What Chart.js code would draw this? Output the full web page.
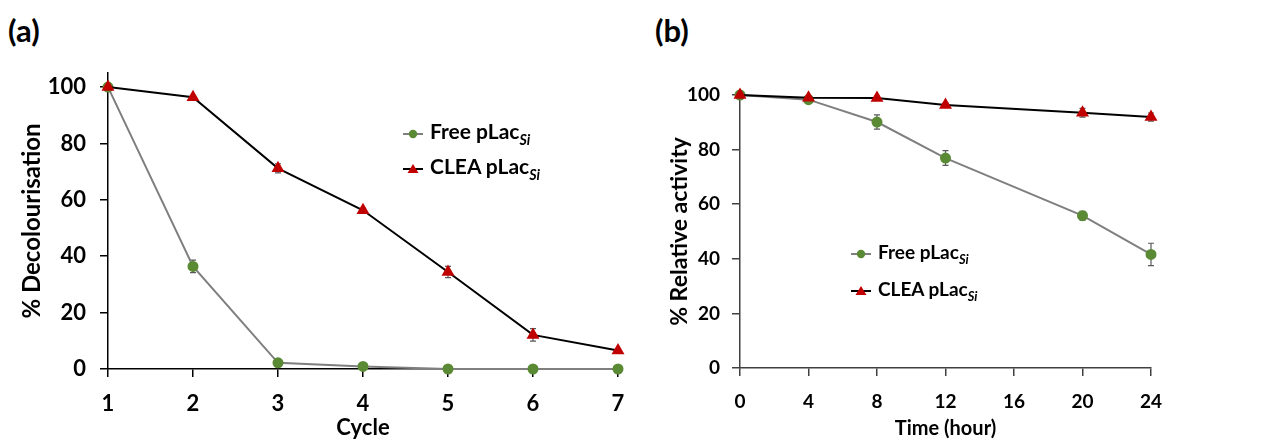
<!DOCTYPE html>
<html>
<head>
<meta charset="utf-8">
<script src="https://cdn.jsdelivr.net/npm/chart.js@4/dist/chart.umd.min.js"></script>
<style>
  body { margin: 0; background: #fff; width: 1271px; height: 441px; position: relative; overflow: hidden; font-family: Lato, sans-serif; }
  .panel { position: absolute; top: 0; }
  canvas { display: block; }
  .tag { position: absolute; font-weight: bold; font-size: 31px; color: #000; line-height: 1; }
  .row { position: absolute; white-space: nowrap; display: flex; align-items: center; font-weight: bold; color: #000; line-height: 1; }
  .row svg { margin-right: 7px; }
  .row sub { font-style: italic; font-size: 0.68em; vertical-align: -0.4em; }
</style>
</head>
<body>
<div class="tag" style="left:8px;top:15px;">(a)</div>
<div class="tag" style="left:655px;top:15px;">(b)</div>
<div class="panel" style="left:0;"><canvas id="chartA" width="640" height="441"></canvas></div>
<div class="panel" style="left:640px;"><canvas id="chartB" width="631" height="441"></canvas></div>
<div id="legendA"></div>
<div id="legendB"></div>
<script>
// series names (subscript part kept apart)
const seriesNames = ['Free pLac', 'CLEA pLac'];
const seriesSub = 'Si';
const yTicks = [0, 20, 40, 60, 80, 100];

// (a) reuse cycles
const cycles = [1, 2, 3, 4, 5, 6, 7];
const freeDecol = [100, 36.4, 2.2, 0.9, 0, 0, 0];
const freeDecolErr = [0.4, 2.2, 0.5, 0.4, 0, 0, 0];
const cleaDecol = [100, 96.4, 71.2, 56.3, 34.4, 12.1, 6.6];
const cleaDecolErr = [0.4, 0.6, 1.6, 0.7, 2.0, 2.2, 0.5];

// (b) storage stability
const hours = [0, 4, 8, 12, 20, 24];
const freeAct = [100, 98.3, 90.1, 76.9, 55.8, 41.6];
const freeActErr = [0.4, 1.0, 2.6, 2.7, 1.6, 4.1];
const cleaAct = [100, 99.0, 98.9, 96.3, 93.5, 91.9];
const cleaActErr = [0.4, 0.8, 0.6, 0.7, 1.6, 1.5];

const green = '#5a8a34';
const red = '#c00000';

// draw the error bars under the lines, using the chart scales
const errorBars = {
  id: 'errorBars',
  beforeDatasetsDraw(chart) {
    const { ctx, scales: { x, y } } = chart;
    ctx.save();
    ctx.strokeStyle = '#595959';
    ctx.lineWidth = 1.2;
    chart.data.datasets.forEach(ds => {
      if (!ds.errors) return;
      ds.data.forEach((p, i) => {
        const e = ds.errors[i];
        if (!e) return;
        const px = x.getPixelForValue(p.x);
        const top = y.getPixelForValue(p.y + e);
        const bot = y.getPixelForValue(p.y - e);
        ctx.beginPath();
        ctx.moveTo(px, top); ctx.lineTo(px, bot);
        ctx.moveTo(px - 3, top); ctx.lineTo(px + 3, top);
        ctx.moveTo(px - 3, bot); ctx.lineTo(px + 3, bot);
        ctx.stroke();
      });
    });
    ctx.restore();
  }
};

function pts(xs, ys) {
  return xs.map((v, i) => ({ x: v, y: ys[i] }));
}

function makeChart(id, cfg) {
  const axisColor = cfg.axisColor;
  const bold = size => ({ family: 'Lato', weight: 'bold', size: size });
  return new Chart(document.getElementById(id), {
    type: 'line',
    data: {
      datasets: [
        {
          label: seriesNames[0],
          data: pts(cfg.xs, cfg.free),
          errors: cfg.freeErr,
          borderColor: '#7f7f7f',
          borderWidth: 2,
          pointStyle: 'circle',
          pointRadius: 4.5,
          pointBackgroundColor: green,
          pointBorderColor: green,
          clip: false,
          order: 1
        },
        {
          label: seriesNames[1],
          data: pts(cfg.xs, cfg.clea),
          errors: cfg.cleaErr,
          borderColor: '#000',
          borderWidth: 2,
          pointStyle: 'triangle',
          pointRadius: 5.5,
          pointBackgroundColor: red,
          pointBorderColor: red,
          clip: false,
          order: 0
        }
      ]
    },
    options: {
      responsive: false,
      animation: false,
      layout: { padding: cfg.padding },
      plugins: { legend: { display: false }, tooltip: { enabled: false } },
      scales: {
        x: {
          type: 'linear',
          min: cfg.xMin, max: cfg.xMax,
          border: { color: axisColor, width: 1.5 },
          grid: { drawOnChartArea: false, drawTicks: true, tickLength: 8, color: axisColor, lineWidth: 1.5 },
          ticks: { stepSize: cfg.xStep, color: '#000', padding: cfg.xTickPad, font: bold(cfg.tickSize) },
          title: { display: true, text: cfg.xTitle, color: '#000', padding: { top: 0, bottom: 0 }, font: bold(cfg.xTitleSize) },
          afterFit: s => { s.height = cfg.xHeight; }
        },
        y: {
          min: 0, max: cfg.yMax,
          border: { color: axisColor, width: 1.5 },
          grid: { drawOnChartArea: false, drawTicks: true, tickLength: 8, color: axisColor, lineWidth: 1.5 },
          ticks: { color: '#000', padding: cfg.yTickPad, font: bold(cfg.tickSize) },
          afterBuildTicks: s => { s.ticks = yTicks.map(v => ({ value: v })); },
          title: { display: true, text: cfg.yTitle, color: '#000', padding: { top: cfg.yTitlePad, bottom: 0 }, font: bold(cfg.yTitleSize) },
          afterFit: s => { s.width = cfg.yWidth; }
        }
      }
    },
    plugins: [errorBars]
  });
}

makeChart('chartA', {
  xs: cycles, free: freeDecol, freeErr: freeDecolErr, clea: cleaDecol, cleaErr: cleaDecolErr,
  xMin: 1, xMax: 7, xStep: 1, yMax: 105,
  xTitle: 'Cycle', yTitle: '% Decolourisation',
  padding: { top: 73, right: 22, left: 0, bottom: 0 },
  xHeight: 72, yWidth: 108, yTitlePad: 18, xTickPad: 14, yTickPad: 14,
  tickSize: 22, xTitleSize: 22, yTitleSize: 24, axisColor: '#000'
});

makeChart('chartB', {
  xs: hours, free: freeAct, freeErr: freeActErr, clea: cleaAct, cleaErr: cleaActErr,
  xMin: 0, xMax: 24, xStep: 4, yMax: 100,
  xTitle: 'Time (hour)', yTitle: '% Relative activity',
  padding: { top: 95, right: 120, left: 0, bottom: 0 },
  xHeight: 73, yWidth: 100, yTitlePad: 26, xTickPad: 14, yTickPad: 12,
  tickSize: 19, xTitleSize: 20, yTitleSize: 23, axisColor: '#404040'
});

// legends with subscripted names
const markers = [
  '<svg width="20" height="12"><line x1="0" y1="6" x2="20" y2="6" stroke="#7f7f7f" stroke-width="2"/><circle cx="10" cy="6" r="4.2" fill="' + green + '"/></svg>',
  '<svg width="20" height="12"><line x1="0" y1="6" x2="20" y2="6" stroke="#000" stroke-width="2"/><polygon points="10,1 15.5,10 4.5,10" fill="' + red + '"/></svg>'
];
function buildLegend(id, left, centers, size) {
  const box = document.getElementById(id);
  seriesNames.forEach((name, i) => {
    const row = document.createElement('div');
    row.className = 'row';
    row.style.left = left + 'px';
    row.style.top = (centers[i] - size * 0.6) + 'px';
    row.style.fontSize = size + 'px';
    row.innerHTML = markers[i] + '<span>' + name + '<sub>' + seriesSub + '</sub></span>';
    box.appendChild(row);
  });
}
buildLegend('legendA', 403, [133, 168], 21);
buildLegend('legendB', 851, [253, 290], 19);
</script>
</body>
</html>
